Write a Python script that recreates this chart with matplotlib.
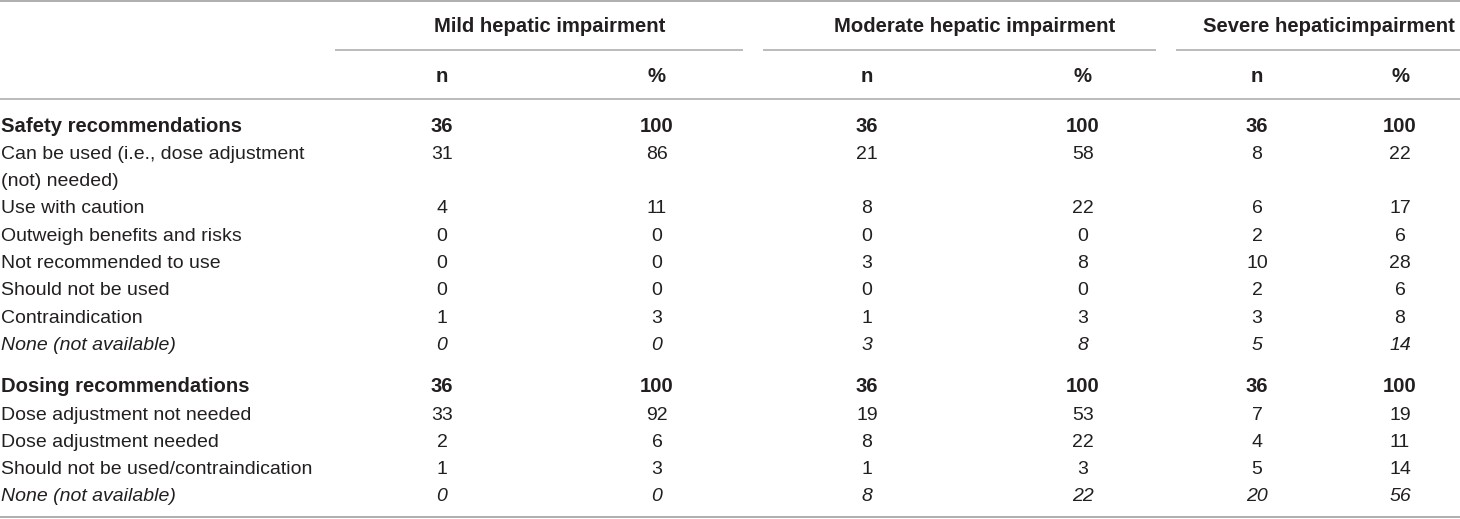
import matplotlib
matplotlib.use("Agg")
import matplotlib.pyplot as plt

plt.rcParams['font.family'] = ['Liberation Sans', 'DejaVu Sans']

# Table data
groups = ['Mild hepatic impairment', 'Moderate hepatic impairment', 'Severe hepaticimpairment']
sub_headers = ['n', '%']

row_labels = [
    'Safety recommendations',
    'Can be used (i.e., dose adjustment\n(not) needed)',
    'Use with caution',
    'Outweigh benefits and risks',
    'Not recommended to use',
    'Should not be used',
    'Contraindication',
    'None (not available)',
    'Dosing recommendations',
    'Dose adjustment not needed',
    'Dose adjustment needed',
    'Should not be used/contraindication',
    'None (not available)',
]
row_style = ['bold', 'normal', 'normal', 'normal', 'normal', 'normal', 'normal', 'italic',
             'bold', 'normal', 'normal', 'normal', 'italic']

mild_n = [36, 31, 4, 0, 0, 0, 1, 0, 36, 33, 2, 1, 0]
mild_pct = [100, 86, 11, 0, 0, 0, 3, 0, 100, 92, 6, 3, 0]
moderate_n = [36, 21, 8, 0, 3, 0, 1, 3, 36, 19, 8, 1, 8]
moderate_pct = [100, 58, 22, 0, 8, 0, 3, 8, 100, 53, 22, 3, 22]
severe_n = [36, 8, 6, 2, 10, 2, 3, 5, 36, 7, 4, 5, 20]
severe_pct = [100, 22, 17, 6, 28, 6, 8, 14, 100, 19, 11, 14, 56]

columns = [mild_n, mild_pct, moderate_n, moderate_pct, severe_n, severe_pct]

# Layout (pixel coordinates)
W, H = 1460, 519
col_x = [442, 657, 867, 1083, 1257, 1400]
group_spans = [(335, 743), (763, 1156), (1176, 1460)]
line_step = 27.3
section_gap = 15
text_color = '#231f20'
rule_color = '#a8a8a8'
fs = 14
fs_bold = 14.6

fig = plt.figure(figsize=(W / 100, H / 100), dpi=100)
ax = fig.add_axes([0, 0, 1, 1])
ax.set_xlim(0, W)
ax.set_ylim(H, 0)
ax.axis('off')

def put(x, y, s, ha='center', weight='normal', style='normal'):
    size = fs_bold if weight == 'bold' else fs
    ax.text(x, y + 6.5, s, ha=ha, va='baseline', fontsize=size, color=text_color,
            fontweight=weight, fontstyle=style)

# Rules
ax.plot([0, W], [1, 1], color=rule_color, lw=1.3, solid_capstyle='butt')
ax.plot([0, W], [99, 99], color=rule_color, lw=1.1, solid_capstyle='butt')
ax.plot([0, W], [517, 517], color=rule_color, lw=1.3, solid_capstyle='butt')
for x0, x1 in group_spans:
    ax.plot([x0, x1], [50, 50], color=rule_color, lw=1.1, solid_capstyle='butt')

# Header
for g, name in enumerate(groups):
    cx = (col_x[2 * g] + col_x[2 * g + 1]) / 2
    put(cx, 25, name, weight='bold')
    for k, sh in enumerate(sub_headers):
        put(col_x[2 * g + k], 76, sh, weight='bold')

# Body
y = 125
for i, label in enumerate(row_labels):
    if i == 8:
        y += section_gap
    weight = 'bold' if row_style[i] == 'bold' else 'normal'
    style = 'italic' if row_style[i] == 'italic' else 'normal'
    lines = label.split('\n')
    for j, ln in enumerate(lines):
        put(1, y + j * line_step, ln, ha='left', weight=weight, style=style)
    for c, vals in enumerate(columns):
        put(col_x[c], y, str(vals[i]), weight=weight, style=style)
    y += line_step * len(lines)

fig.savefig('out.png', dpi=100)
